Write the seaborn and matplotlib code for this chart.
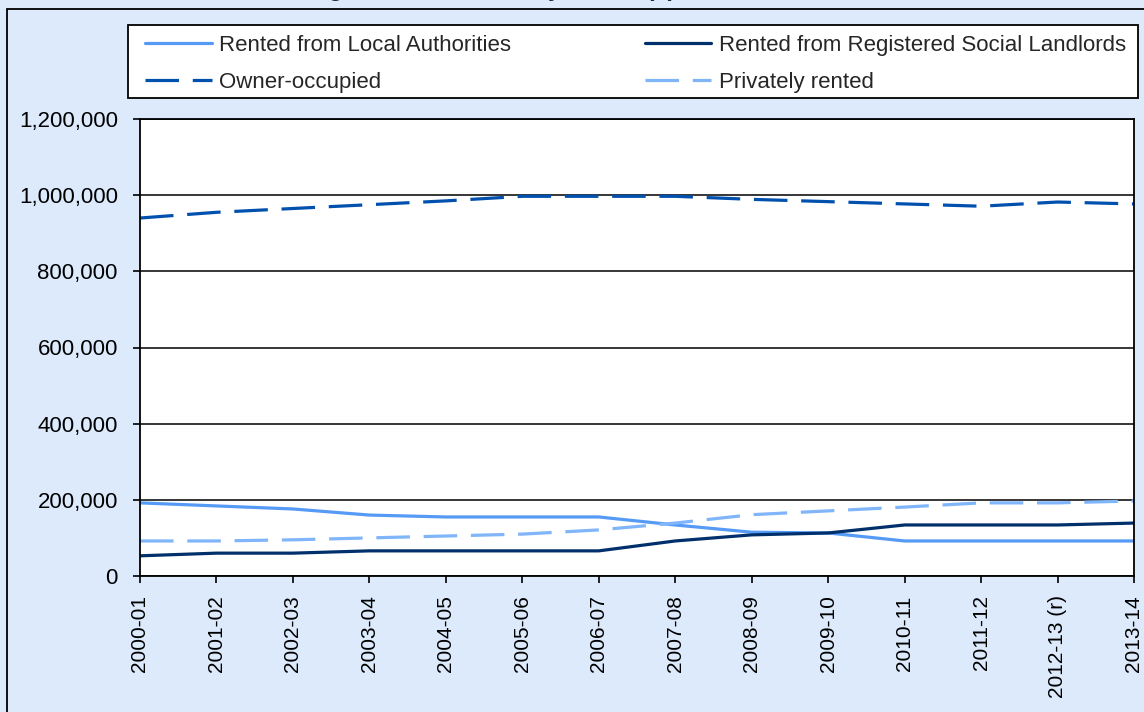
import pandas as pd
import matplotlib
matplotlib.use("Agg")
import matplotlib.pyplot as plt
import matplotlib.ticker as mticker
from matplotlib.patches import Rectangle
import seaborn as sns

# data
years = ['2000-01', '2001-02', '2002-03', '2003-04', '2004-05', '2005-06', '2006-07',
         '2007-08', '2008-09', '2009-10', '2010-11', '2011-12', '2012-13 (r)', '2013-14']
local_authorities = [192000, 184000, 176000, 160000, 155000, 155000, 155000,
                     134000, 115000, 113000, 92000, 92000, 92000, 92000]
social_landlords = [53000, 60000, 60000, 66000, 66000, 66000, 66000,
                    92000, 108000, 113000, 134000, 134000, 134000, 139000]
owner_occupied = [940000, 955000, 965000, 975000, 985000, 997000, 997000,
                  997000, 989000, 983000, 977000, 971000, 982000, 977000]
privately_rented = [92000, 92000, 95000, 100000, 105000, 110000, 121000,
                    139000, 161000, 171000, 181000, 192000, 192000, 197000]
y_ticks = [0, 200000, 400000, 600000, 800000, 1000000, 1200000]

df = pd.DataFrame({'year': years,
                   'Rented from Local Authorities': local_authorities,
                   'Rented from Registered Social Landlords': social_landlords,
                   'Owner-occupied': owner_occupied,
                   'Privately rented': privately_rented})

sns.set_style('white')
plt.rcParams['font.family'] = ['Liberation Sans', 'DejaVu Sans']
plt.rcParams['font.size'] = 16

bg = '#DCEAFC'
W, H = 1144, 712
fig = plt.figure(figsize=(W / 100, H / 100), dpi=100, facecolor=bg)
ax = fig.add_axes([140 / W, 1 - 576 / H, (1134 - 140) / W, (576 - 119) / H])
ax.set_facecolor('white')

dash = (0, (10.5, 4.3))
styles = {
    'Rented from Local Authorities': ('#559BF5', '-'),
    'Owner-occupied': ('#0050AE', dash),
    'Rented from Registered Social Landlords': ('#00306C', '-'),
    'Privately rented': ('#80B5FA', dash),
}
for name, (col, ls) in styles.items():
    sns.lineplot(data=df, x='year', y=name, ax=ax, color=col, linestyle=ls,
                 lw=2.3, sort=False, label=name, legend=False)

ax.set_xlim(0, len(years) - 1)
ax.set_ylim(0, 1200000)
ax.set_yticks(y_ticks)
ax.yaxis.set_major_formatter(mticker.StrMethodFormatter('{x:,.0f}'))
ax.set_xticks(range(len(years)))
ax.set_xticklabels(years, rotation=90, va='top', ha='center')
ax.set_xlabel('')
ax.set_ylabel('')
ax.yaxis.grid(True, color='black', lw=1.1)
ax.set_axisbelow(True)
for s in ax.spines.values():
    s.set_color('black')
    s.set_linewidth(1.3)
ax.tick_params(axis='both', direction='out', length=5, width=1.2, color='black',
               labelcolor='black')
ax.tick_params(axis='y', pad=11, left=True, labelsize=16)
ax.tick_params(axis='x', pad=9, bottom=True, labelsize=15)

# legend box
fig.add_artist(Rectangle((128 / W, 1 - 98 / H), (1138 - 128) / W, (98 - 25) / H,
                         transform=fig.transFigure, facecolor='white',
                         edgecolor='black', lw=1.3, zorder=1))
handles, labels = ax.get_legend_handles_labels()
leg = fig.legend(handles, labels, ncol=2, loc='upper left',
                 bbox_to_anchor=(145 / W, 1 - 35 / H),
                 frameon=False, fontsize=16, handlelength=3.0, handletextpad=0.35,
                 columnspacing=6.0, borderaxespad=0, borderpad=0, labelspacing=0.7)
leg.set_zorder(2)

# outer chart border (cut off at right and bottom)
fig.add_artist(Rectangle((7 / W, -0.1), 1.2, 1 + 0.1 - 9 / H, transform=fig.transFigure,
                         fill=False, edgecolor='black', lw=1.3))

# title, mostly cut off at the top of the picture
fig.text(675 / W, 1 + 4 / H, 'Chart 4: Housing stock estimates by tenure (3)',
         ha='right', va='baseline', fontsize=17, fontweight='bold')

plt.savefig('out.png', dpi=100, facecolor=bg)
